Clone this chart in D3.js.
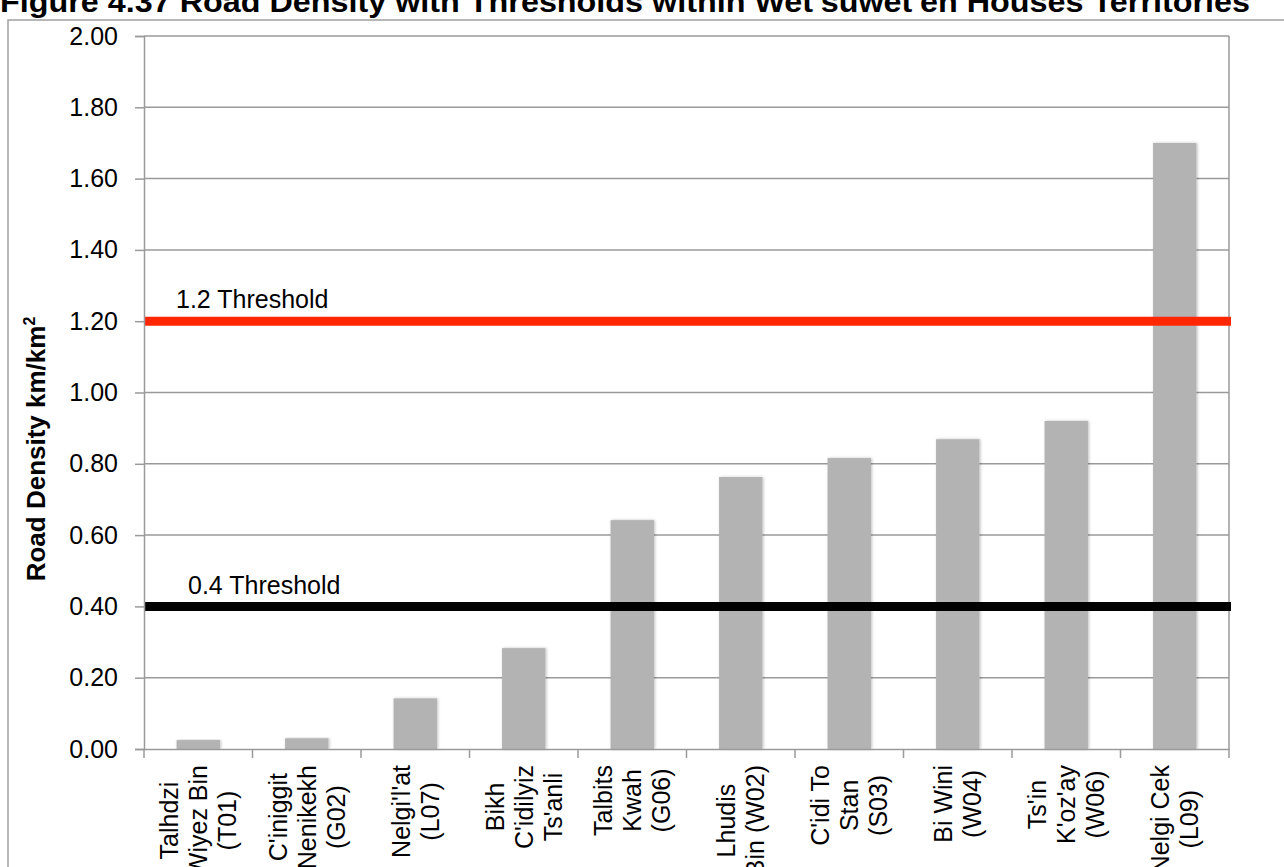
<!DOCTYPE html>
<html lang="en">
<head>
    <style>
        body { margin: 0; background: #fff; }
        svg { display: block; }
        text { font-family: "Liberation Sans", Arial, sans-serif; fill: #000; }
    </style>
</head>
<body>
    <svg width="1284" height="867"></svg>
    <script src="https://cdn.jsdelivr.net/npm/d3@7"></script>
    <script>
        // Data
        const codes = ["T01", "G02", "L07", "S01", "G06", "W02", "S03", "W04", "W06", "L09"];
        const labelLines = [
            ["Talhdzi", "Wiyez Bin", "(T01)"],
            ["C'iniggit", "Nenikekh", "(G02)"],
            ["Nelgi'l'at", "(L07)"],
            ["Bikh", "C'idilyiz", "Ts'anli"],
            ["Talbits", "Kwah", "(G06)"],
            ["Lhudis", "Bin (W02)"],
            ["C'idi To", "Stan", "(S03)"],
            ["Bi Wini", "(W04)"],
            ["Ts'in", "K'oz'ay", "(W06)"],
            ["Nelgi Cek", "(L09)"]
        ];
        const density = [0.025, 0.03, 0.142, 0.283, 0.642, 0.763, 0.816, 0.869, 0.92, 1.70];
        const thresholds = [1.2, 0.4];
        const thresholdNames = ["1.2 Threshold", "0.4 Threshold"];
        const thresholdColors = ["#FF2600", "#000000"];
        const yTicks = [0, 0.2, 0.4, 0.6, 0.8, 1.0, 1.2, 1.4, 1.6, 1.8, 2.0];

        const svg = d3.select("svg");

        const plot = { left: 144, right: 1229, top: 36, bottom: 749 };
        const grey = "#9a9a9a";

        // Title (top half cropped off, as in the source)
        svg.append("text")
            .attr("x", 0)
            .attr("y", 12)
            .attr("textLength", 1250)
            .attr("lengthAdjust", "spacingAndGlyphs")
            .style("font-weight", "bold")
            .style("font-size", "30px")
            .text("Figure 4.37  Road Density with Thresholds within Wet'suwet'en Houses Territories");

        // Outer chart border
        svg.append("rect")
            .attr("x", 8).attr("y", 20)
            .attr("width", 1300).attr("height", 900)
            .attr("fill", "none")
            .attr("stroke", "#a0a0a0")
            .attr("stroke-width", 1.5);

        const x = d3.scaleBand().domain(codes).range([plot.left, plot.right]).paddingInner(0.6).paddingOuter(0.3);
        const xTick = d3.scaleBand().domain(codes).range([plot.left, plot.right]);
        const y = d3.scaleLinear().domain([0, 2]).range([plot.bottom, plot.top]);

        // Shadow for bars
        const defs = svg.append("defs");
        const shadow = defs.append("filter").attr("id", "shadow")
            .attr("x", "-20%").attr("y", "-5%").attr("width", "140%").attr("height", "110%");
        shadow.append("feGaussianBlur").attr("in", "SourceAlpha").attr("stdDeviation", 1.5).attr("result", "blur");
        shadow.append("feOffset").attr("in", "blur").attr("dx", 1).attr("dy", 0).attr("result", "off");
        shadow.append("feComponentTransfer").attr("in", "off").attr("result", "soft")
            .append("feFuncA").attr("type", "linear").attr("slope", 0.25);
        const merge = shadow.append("feMerge");
        merge.append("feMergeNode").attr("in", "soft");
        merge.append("feMergeNode").attr("in", "SourceGraphic");

        // Gridlines
        svg.append("g")
            .selectAll("line")
            .data(yTicks.filter(d => d > 0))
            .join("line")
            .attr("x1", plot.left).attr("x2", plot.right)
            .attr("y1", d => y(d)).attr("y2", d => y(d))
            .attr("stroke", grey).attr("stroke-width", 1.5);

        // Right border
        svg.append("line")
            .attr("x1", plot.right).attr("x2", plot.right)
            .attr("y1", plot.top).attr("y2", plot.bottom)
            .attr("stroke", grey).attr("stroke-width", 1.5);

        // Bars
        svg.append("g")
            .selectAll("rect")
            .data(density)
            .join("rect")
            .attr("x", (d, i) => x(codes[i]))
            .attr("width", x.bandwidth())
            .attr("y", d => y(d))
            .attr("height", d => y(0) - y(d))
            .attr("fill", "#B3B3B3")
            .attr("filter", "url(#shadow)");

        // Threshold lines
        thresholds.forEach((t, i) => {
            svg.append("line")
                .attr("x1", plot.left).attr("x2", plot.right + 2)
                .attr("y1", y(t)).attr("y2", y(t))
                .attr("stroke", thresholdColors[i])
                .attr("stroke-width", 9);
        });
        svg.append("text").attr("x", 176).attr("y", y(1.2) - 13)
            .style("font-size", "25px").text(thresholdNames[0]);
        svg.append("text").attr("x", 188).attr("y", y(0.4) - 12)
            .style("font-size", "25px").text(thresholdNames[1]);

        // Y axis
        const yAxis = svg.append("g")
            .attr("transform", `translate(${plot.left}, 0)`)
            .call(d3.axisLeft(y).tickValues(yTicks).tickFormat(d3.format(".2f")).tickSize(9).tickPadding(17));
        yAxis.select(".domain").attr("stroke", grey).attr("stroke-width", 1.5);
        yAxis.selectAll(".tick line").attr("stroke", grey).attr("stroke-width", 1.5);
        yAxis.selectAll(".tick text")
            .style("font-size", "25px")
            .style("font-family", "'Liberation Sans', Arial, sans-serif")
            .attr("fill", "#000");

        // X axis
        const xAxis = svg.append("g")
            .attr("transform", `translate(0, ${plot.bottom})`)
            .call(d3.axisBottom(xTick).tickSize(0).tickFormat(""));
        xAxis.select(".domain").attr("stroke", grey).attr("stroke-width", 1.5);
        xAxis.selectAll(".tick").remove();
        xAxis.selectAll(".sep")
            .data(d3.range(codes.length + 1))
            .join("line")
            .attr("class", "sep")
            .attr("x1", i => plot.left + i * xTick.step())
            .attr("x2", i => plot.left + i * xTick.step())
            .attr("y1", 0).attr("y2", 9)
            .attr("stroke", grey).attr("stroke-width", 1.5);

        // Category labels, rotated, block centred on each band
        const lineH = 29;
        codes.forEach((c, i) => {
            const cx = xTick(c) + xTick.bandwidth() / 2;
            const g = svg.append("g")
                .attr("transform", `translate(${cx}, ${plot.bottom + 16}) rotate(-90)`);
            const lines = labelLines[i];
            const texts = lines.map((ln, k) => g.append("text")
                .attr("y", (k - (lines.length - 1) / 2) * lineH + 9)
                .attr("text-anchor", "middle")
                .style("font-size", "25px")
                .text(ln));
            const w = d3.max(texts, t => t.node().getComputedTextLength());
            texts.forEach(t => t.attr("x", -w / 2));
        });

        // Y axis title
        svg.append("text")
            .attr("transform", "translate(45, 449) rotate(-90)")
            .attr("text-anchor", "middle")
            .style("font-weight", "bold")
            .style("font-size", "26px")
            .html("Road Density km/km<tspan dy='-10' font-size='16px'>2</tspan>");
    </script>
</body>
</html>
